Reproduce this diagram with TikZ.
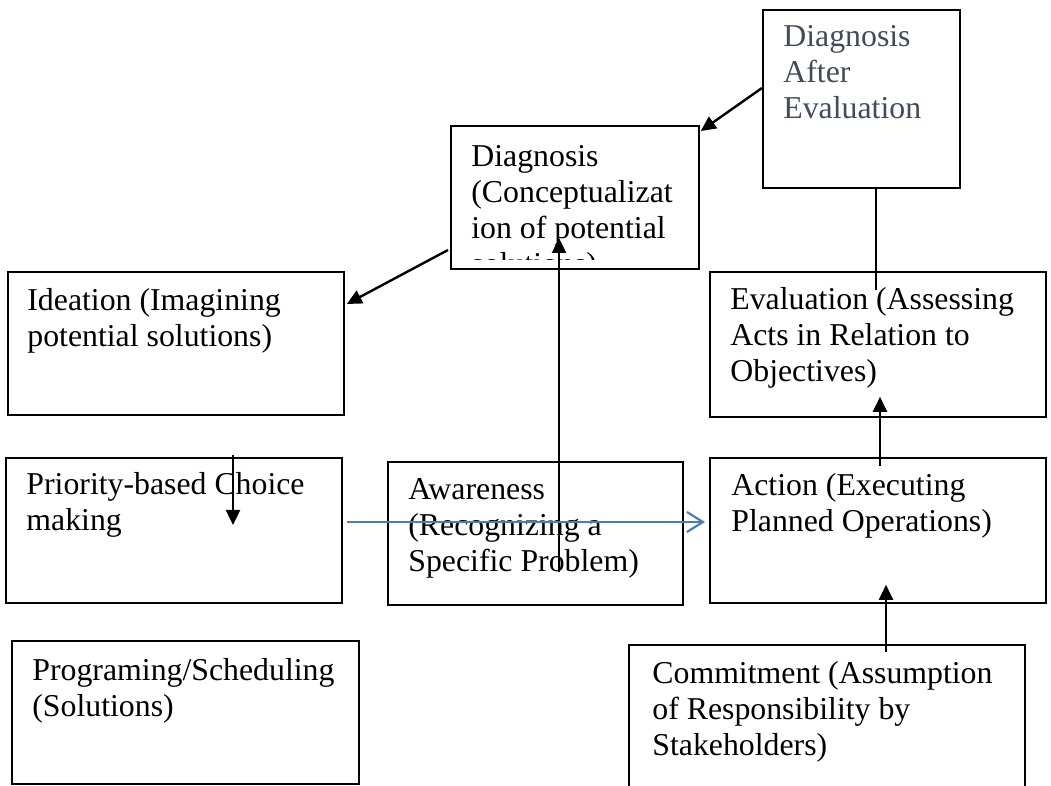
\documentclass[tikz,border=0pt]{standalone}
\usepackage{fontspec}
\setmainfont{Liberation Serif}
\usetikzlibrary{arrows.meta}
\definecolor{slate}{HTML}{404B5C}
\definecolor{flowblue}{HTML}{4A7EBB}
\tikzset{
  stage/.style={shape=rectangle, draw=black, line width=0.9pt, anchor=north west, inner sep=0pt},
  stagetext/.style={anchor=north west, align=left, inner sep=0pt, font=\fontsize{15.9}{18}\selectfont, execute at begin node=\strut},
  link/.style={line width=1.2pt, -{Triangle[length=7.5pt,width=7pt]}},
  bluelink/.style={line width=1.1pt, draw=flowblue, -{Straight Barb[length=8pt,width=10pt,line width=1.1pt]}},
}
\begin{document}
\begin{tikzpicture}[x=0.5pt,y=-0.5pt]
  \useasboundingbox (0,0) rectangle (1051,786);
  \clip (0,0) rectangle (1051,786);

  % boxes
  \node[stage, minimum width=98.5pt, minimum height=89pt] (dae) at (762,9) {};
  \node[stage, minimum width=124pt, minimum height=71.5pt] (dia) at (450,125) {};
  \node[stage, minimum width=168pt, minimum height=71.5pt] (ide) at (7,271) {};
  \node[stage, minimum width=168pt, minimum height=72.5pt] (eval) at (709,271) {};
  \node[stage, minimum width=168pt, minimum height=72.5pt] (pri) at (5,457) {};
  \node[stage, minimum width=147.5pt, minimum height=71.5pt] (awa) at (387,461) {};
  \node[stage, minimum width=168pt, minimum height=72.5pt] (act) at (709,457) {};
  \node[stage, minimum width=173.5pt, minimum height=71.5pt] (prog) at (11,640) {};
  \node[stage, minimum width=198pt, minimum height=90pt] (com) at (628,644) {};

  % texts
  \node[stagetext, text=slate] (daet) at ([shift={(21,16)}]dae.north west) {Diagnosis\\After\\Evaluation};
  \begin{scope}
    \clip (dia.north west) rectangle ([shift={(0,-10)}]dia.south east);
    \node[stagetext] (diat) at ([shift={(21,20)}]dia.north west) {Diagnosis\\(Conceptualizat\\ion of potential\\solutions)};
  \end{scope}
  \node[stagetext] (idet) at ([shift={(20,17)}]ide.north west) {Ideation (Imagining\\potential solutions)};
  \node[stagetext] (evalt) at ([shift={(21,16)}]eval.north west) {Evaluation (Assessing\\Acts in Relation to\\Objectives)};
  \node[stagetext] (prit) at ([shift={(21,15)}]pri.north west) {Priority-based Choice\\making};
  \node[stagetext] (awat) at ([shift={(21,17)}]awa.north west) {Awareness\\(Recognizing a\\Specific Problem)};
  \node[stagetext] (actt) at ([shift={(22,16)}]act.north west) {Action (Executing\\Planned Operations)};
  \node[stagetext] (progt) at ([shift={(21,18)}]prog.north west) {Programing/Scheduling\\(Solutions)};
  \node[stagetext] (comt) at ([shift={(24,17)}]com.north west) {Commitment (Assumption\\of Responsibility by\\Stakeholders)};

  % connectors
  \draw[link] ([shift={(0,79)}]dae.north west) -- ([shift={(1,6)}]dia.north east);
  \draw[link] ([shift={(-2,125)}]dia.north west) -- ([shift={(2,33)}]ide.north east);
  \draw[line width=1.2pt] ([shift={(114,0)}]dae.south west) -- ([shift={(167,19)}]eval.north west);
  \draw[link] ([shift={(171,9)}]act.north west) -- ([shift={(171,-21)}]eval.south west);
  \draw[link] ([shift={(258,8)}]com.north west) -- ([shift={(177,-19)}]act.south west);
  \draw[link] ([shift={(172,111)}]awa.north west) -- ([shift={(109,113)}]dia.north west);
  \draw[link] ([shift={(228,-2)}]pri.north west) -- ([shift={(228,68)}]pri.north west);
  \draw[bluelink] ([shift={(4,65)}]pri.north east) -- ([shift={(-4,65)}]act.north west);
\end{tikzpicture}
\end{document}
